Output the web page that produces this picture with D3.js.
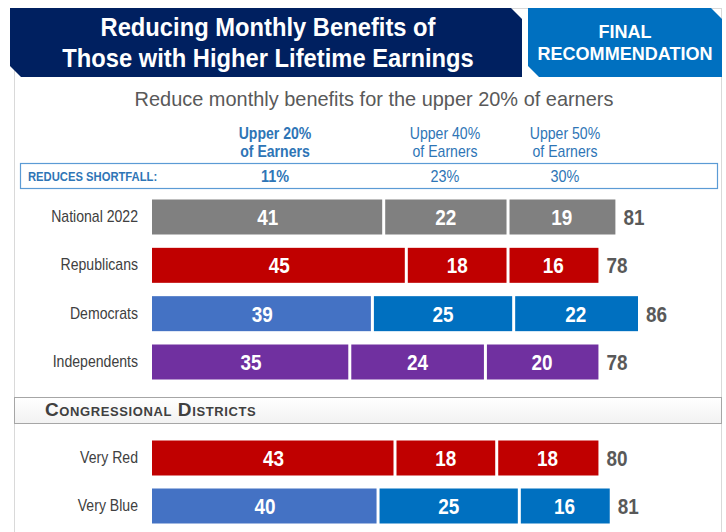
<!DOCTYPE html>
<html>
<head>
<meta charset="utf-8">
<script src="https://cdn.jsdelivr.net/npm/d3@7"></script>
<style>
  body { margin: 0; background: #fff; }
  svg { display: block; font-family: "Liberation Sans", Arial, sans-serif; }
</style>
</head>
<body>
<script>
const width = 726,
      height = 532;

// data
const columnHeads = ["Upper 20%", "Upper 40%", "Upper 50%"];
const shortfall = ["11%", "23%", "30%"];
const groupRows = ["National 2022", "Republicans", "Democrats", "Independents"];
const groupValues = [[41, 22, 19], [45, 18, 16], [39, 25, 22], [35, 24, 20]];
const groupTotals = [81, 78, 86, 78];
const districtRows = ["Very Red", "Very Blue"];
const districtValues = [[43, 18, 18], [40, 25, 16]];
const districtTotals = [80, 81];

const palette = {
    "National 2022": ["#808080", "#808080", "#808080"],
    "Republicans": ["#C00000", "#C00000", "#C00000"],
    "Democrats": ["#4472C4", "#0070C0", "#0070C0"],
    "Independents": ["#7030A0", "#7030A0", "#7030A0"],
    "Very Red": ["#C00000", "#C00000", "#C00000"],
    "Very Blue": ["#4472C4", "#0070C0", "#0070C0"]
};

const narrow = "'Liberation Sans Narrow', 'Arial Narrow', 'Liberation Sans', Arial, sans-serif";

const svg = d3.select("body").append("svg")
    .attr("width", width)
    .attr("height", height);

// squeezed text, standing in for Arial Narrow
function narrowText(parent, x0, y0, str, opts) {
    return parent.append("text")
        .attr("transform", `translate(${x0},${y0}) scale(${opts.sx || 0.86},1)`)
        .attr("text-anchor", opts.anchor || "start")
        .attr("fill", opts.fill)
        .attr("font-weight", opts.weight || "normal")
        .attr("font-size", opts.size)
        .text(str);
}

// outer frame
svg.append("rect")
    .attr("x", 14.5).attr("y", 8.5)
    .attr("width", 707).attr("height", 540)
    .attr("fill", "none")
    .attr("stroke", "#d9d9d9");

// title banners with clipped corners
const c = 11;
svg.append("path")
    .attr("d", `M10,8 H${522 - c} L522,${8 + c} V77 H${10 + c} L10,${77 - c} Z`)
    .attr("fill", "#002060");
svg.append("path")
    .attr("d", `M528,8 H${722 - c} L722,${8 + c} V77 H${528 + c} L528,${77 - c} Z`)
    .attr("fill", "#0070C0");

narrowText(svg, 268, 36, "Reducing Monthly Benefits of", {anchor: "middle", fill: "#fff", weight: "bold", size: 25, sx: 0.95});
narrowText(svg, 268, 67, "Those with Higher Lifetime Earnings", {anchor: "middle", fill: "#fff", weight: "bold", size: 25, sx: 0.95});
narrowText(svg, 625, 38, "FINAL", {anchor: "middle", fill: "#fff", weight: "bold", size: 19, sx: 0.95});
narrowText(svg, 625, 60, "RECOMMENDATION", {anchor: "middle", fill: "#fff", weight: "bold", size: 19, sx: 0.95});

narrowText(svg, 374, 106, "Reduce monthly benefits for the upper 20% of earners", {anchor: "middle", fill: "#595959", size: 21, sx: 0.95});

// scales
const x = d3.scaleLinear().domain([0, 86]).range([152, 638]);
const colX = d3.scaleOrdinal().domain(columnHeads).range([275, 445, 565]);
const yGroups = d3.scalePoint().domain(groupRows).range([217, 362]);
const yDistricts = d3.scalePoint().domain(districtRows).range([458, 506]);
const barH = 35;

// column heads
columnHeads.forEach((h, i) => {
    const opts = {anchor: "middle", fill: "#2E75B6", size: 16, weight: i === 0 ? "bold" : "normal", sx: 0.88};
    narrowText(svg, colX(h), 139, h, opts);
    narrowText(svg, colX(h), 157, "of Earners", opts);
});

// shortfall strip
svg.append("rect")
    .attr("x", 20.5).attr("y", 163.5)
    .attr("width", 697).attr("height", 25)
    .attr("fill", "#fff")
    .attr("stroke", "#5B9BD5").attr("stroke-width", 1.2);
narrowText(svg, 28, 181, "REDUCES SHORTFALL:", {fill: "#2E75B6", weight: "bold", size: 12.5, sx: 0.9});
shortfall.forEach((s, i) => {
    narrowText(svg, colX(columnHeads[i]), 182, s,
        {anchor: "middle", fill: "#2E75B6", weight: i === 0 ? "bold" : "normal", size: 16, sx: 0.9});
});

// section header
const hdrGrad = svg.append("defs").append("linearGradient")
    .attr("id", "hdr").attr("x1", 0).attr("y1", 0).attr("x2", 0).attr("y2", 1);
hdrGrad.append("stop").attr("offset", "0%").attr("stop-color", "#ffffff");
hdrGrad.append("stop").attr("offset", "100%").attr("stop-color", "#f2f2f2");
svg.append("rect")
    .attr("x", 14.5).attr("y", 397.5)
    .attr("width", 707).attr("height", 26)
    .attr("fill", "url(#hdr)")
    .attr("stroke", "#a6a6a6");
svg.append("text")
    .attr("x", 45).attr("y", 416)
    .attr("fill", "#404040").attr("font-weight", "bold")
    .attr("font-size", 19).attr("font-variant", "small-caps")
    .attr("letter-spacing", 0.6)
    .text("Congressional Districts");

function drawRows(rows, values, totals, y) {
    const g = svg.append("g");
    rows.forEach((name, r) => {
        const cy = y(name);
        narrowText(g, 138, cy + 5, name, {anchor: "end", fill: "#404040", size: 16, sx: 0.88});

        let acc = 0;
        const segs = values[r].map((v, i) => {
            const s = {v, x0: acc, x1: acc + v, color: palette[name][i]};
            acc += v;
            return s;
        });

        g.selectAll(null).data(segs).enter().append("rect")
            .attr("x", (d, i) => x(d.x0) + (i > 0 ? 1.5 : 0))
            .attr("y", cy - barH / 2)
            .attr("width", (d, i) => x(d.x1) - x(d.x0) - (i > 0 ? 1.5 : 0) - (i < segs.length - 1 ? 1.5 : 0))
            .attr("height", barH)
            .attr("fill", d => d.color);

        segs.forEach(d => {
            narrowText(g, (x(d.x0) + x(d.x1)) / 2, cy + 8, d.v,
                {anchor: "middle", fill: "#fff", weight: "bold", size: 22, sx: 0.86});
        });

        narrowText(g, x(acc) + 8, cy + 8, totals[r], {fill: "#595959", weight: "bold", size: 22, sx: 0.86});
    });
}

drawRows(groupRows, groupValues, groupTotals, yGroups);
drawRows(districtRows, districtValues, districtTotals, yDistricts);
</script>
</body>
</html>
